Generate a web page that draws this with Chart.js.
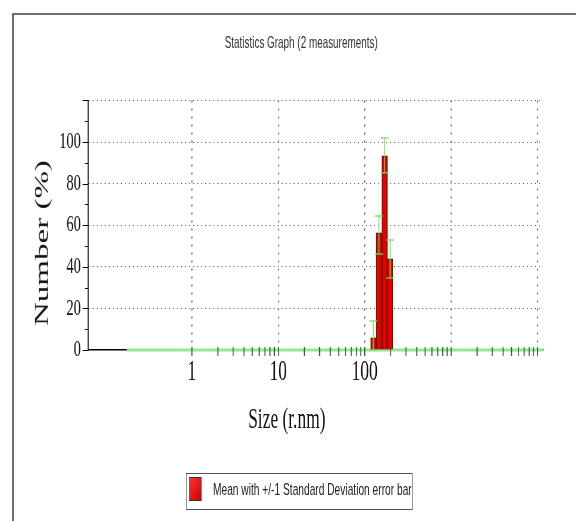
<!DOCTYPE html>
<html>
<head>
<meta charset="utf-8">
<script src="https://cdn.jsdelivr.net/npm/chart.js@4.4.0/dist/chart.umd.min.js"></script>
<style>
  html, body { margin: 0; padding: 0; background: #fff; overflow: hidden; width: 576px; height: 521px; }
  #frame { position: absolute; left: 12px; top: 13px; width: 700px; height: 600px;
           border-left: 2px solid #6e6e6e; border-top: 2px solid #6e6e6e; }
  /* the original screenshot is squeezed sideways, so the whole chart is drawn wide and scaled */
  #squeeze { position: absolute; left: 0; top: 0; width: 960px; height: 521px;
             transform: scaleX(0.6); transform-origin: 0 0; }
  #c { position: absolute; left: 0; top: 0; }
  .lbl { position: absolute; white-space: nowrap; transform: translate(-50%, -50%); line-height: 1; }
  #title { left: 502px; top: 41.5px; font: 16.5px "Liberation Sans", Arial, sans-serif; color: #333; }
  #xtitle { left: 478px; top: 418px; font: 29px "Liberation Serif", "Times New Roman", serif; color: #111; }
  #ytitle { left: 70px; top: 243px; font: 33px "Liberation Serif", "Times New Roman", serif; color: #111;
            transform: translate(-50%, -50%) rotate(-90deg); }
  #legend { position: absolute; left: 310px; top: 473px; width: 376px; height: 35px;
            border: 1px solid #555; border-left-width: 1.7px; border-right-width: 1.7px; }
  #swatch { position: absolute; left: 4px; top: 3px; width: 19px; height: 22px;
            border: 1px solid #333; border-left-width: 1.7px; border-right-width: 1.7px;
            background: linear-gradient(135deg, #ff3030, #d00000); }
  #ltext { position: absolute; left: 44px; top: 15px; transform: translateY(-50%);
           font: 17px "Liberation Sans", Arial, sans-serif; color: #222; white-space: nowrap; line-height: 1; }
</style>
</head>
<body>
<div id="frame"></div>
<div id="squeeze">
  <canvas id="c" width="960" height="521" style="width:960px;height:521px"></canvas>
  <div id="title" class="lbl">Statistics Graph (2 measurements)</div>
  <div id="xtitle" class="lbl">Size (r.nm)</div>
  <div id="ytitle" class="lbl">Number (%)</div>
  <div id="legend"><div id="swatch"></div><div id="ltext">Mean with +/-1 Standard Deviation error bar</div></div>
</div>
<script>
// size classes (r.nm) and mean number % of the 2 measurements
const sizes = [126, 146, 170, 197];
const numberPct = [5.8, 56.3, 93.3, 43.8];
// mean -/+ 1 standard deviation
const errLow = [0, 46.2, 85.2, 34.6];
const errHigh = [14, 64.4, 101.9, 52.9];
// zero line drawn in green across the measured range
const zeroLineX = [0.177, 11580];
const zeroLineY = [0, 0];
const xGridTicks = [1, 10, 100, 1000, 10000];
const xLabelled = [1, 10, 100];
const yLabelMax = 100;

// --- error bars and the small axis tick marks ---
const axisMarks = {
    id: 'axisMarks',
    afterDatasetsDraw(chart) {
        const { ctx, scales: { x, y } } = chart;
        ctx.save();

        ctx.strokeStyle = 'rgba(110, 222, 90, 0.85)';
        sizes.forEach((s, i) => {
            const px = x.getPixelForValue(s);
            const top = y.getPixelForValue(errHigh[i]);
            const bot = y.getPixelForValue(errLow[i]);
            ctx.lineWidth = 1.8;
            ctx.beginPath();
            ctx.moveTo(px, top);
            ctx.lineTo(px, bot);
            ctx.stroke();
            ctx.lineWidth = 1.5;
            ctx.beginPath();
            ctx.moveTo(px - 6.5, top); ctx.lineTo(px + 6.5, top);
            ctx.moveTo(px - 6.5, bot); ctx.lineTo(px + 6.5, bot);
            ctx.stroke();
        });

        // log minor ticks crossing the x axis
        const y0 = y.getPixelForValue(0);
        ctx.strokeStyle = '#2a5e2a';
        ctx.lineWidth = 1.7;
        ctx.beginPath();
        for (let dec = 1; dec <= 1000; dec *= 10) {
            for (let d = 1; d <= 9; d++) {
                const px = x.getPixelForValue(d * dec);
                ctx.moveTo(px, y0 - 3);
                ctx.lineTo(px, y0 + 6);
            }
        }
        const pxEnd = x.getPixelForValue(10000);
        ctx.moveTo(pxEnd, y0 - 3);
        ctx.lineTo(pxEnd, y0 + 6);
        ctx.stroke();

        // y ticks every 10, longer on the labelled ones
        ctx.strokeStyle = '#000';
        ctx.lineWidth = 1;
        ctx.beginPath();
        for (let v = 0; v <= 120; v += 10) {
            const py = Math.round(y.getPixelForValue(v)) + 0.5;
            const len = v % 20 === 0 ? 9 : 5;
            ctx.moveTo(x.left - len, py);
            ctx.lineTo(x.left, py);
        }
        ctx.stroke();
        ctx.restore();
    }
};

new Chart(document.getElementById('c'), {
    type: 'bar',
    data: {
        datasets: [{
            type: 'bar',
            data: sizes.map((s, i) => ({ x: s, y: numberPct[i] })),
            backgroundColor: '#e60000',
            borderColor: '#5c1800',
            borderWidth: 1.5,
            barPercentage: 1,
            categoryPercentage: 1,
            order: 0
        }, {
            type: 'line',
            data: zeroLineX.map((v, i) => ({ x: v, y: zeroLineY[i] })),
            borderColor: '#96e496',
            borderWidth: 3,
            pointRadius: 0,
            clip: false,
            order: 1
        }]
    },
    options: {
        responsive: false,
        devicePixelRatio: 1,
        animation: false,
        events: [],
        layout: { padding: { left: 0, right: 55, top: 100.4, bottom: 0 } },
        plugins: {
            legend: { display: false },
            tooltip: { enabled: false },
            title: { display: false }
        },
        scales: {
            x: {
                type: 'logarithmic',
                min: 0.0627,
                max: 11580,
                offset: false,
                afterBuildTicks: (s) => { s.ticks = xGridTicks.map(v => ({ value: v })); },
                afterFit: (s) => { s.height = 171; },
                grid: { color: '#555', lineWidth: 1.7, drawTicks: false, offset: false },
                border: { color: '#000', width: 1.5, dash: [2, 6] },
                ticks: {
                    autoSkip: false,
                    maxRotation: 0,
                    padding: 5,
                    color: '#111',
                    font: { family: '"Liberation Serif", "Times New Roman", serif', size: 29 },
                    callback: (v) => xLabelled.includes(v) ? String(v) : ''
                }
            },
            y: {
                min: 0,
                max: 120,
                afterFit: (s) => { s.width = 146.67; },
                grid: {
                    color: (c) => c.tick && c.tick.value === 0 ? 'rgba(0,0,0,0)' : '#555',
                    lineWidth: 1,
                    drawTicks: false
                },
                border: { color: '#000', width: 1.7, dash: [1.7, 5] },
                ticks: {
                    stepSize: 20,
                    padding: 12,
                    color: '#111',
                    font: { family: '"Liberation Serif", "Times New Roman", serif', size: 24 },
                    callback: (v) => v <= yLabelMax ? String(v) : ''
                }
            }
        }
    },
    plugins: [axisMarks]
});
</script>
</body>
</html>
